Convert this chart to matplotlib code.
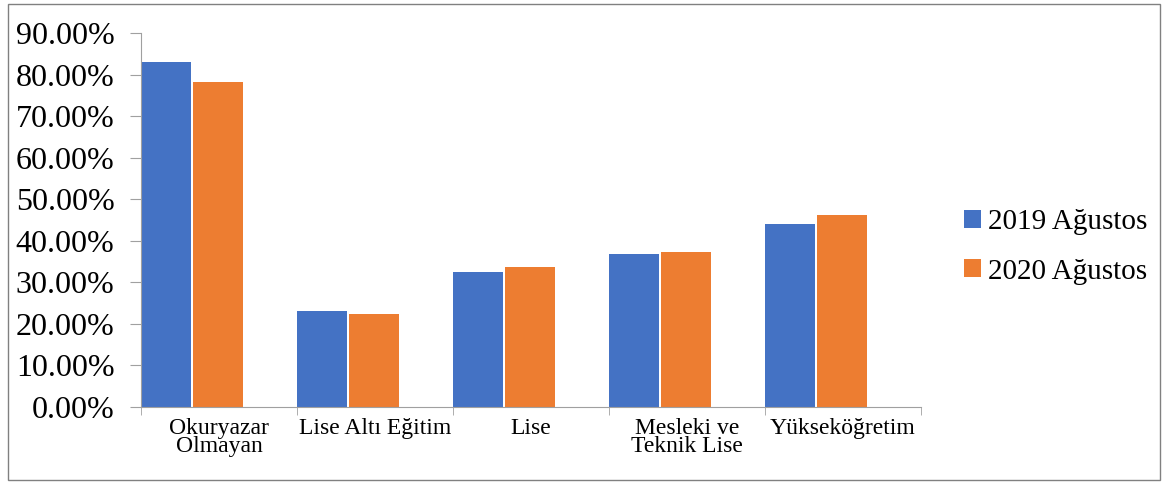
import numpy as np
import matplotlib
matplotlib.use('Agg')
from matplotlib import pyplot as plt
from matplotlib.patches import Rectangle
from matplotlib.ticker import FuncFormatter, FixedLocator

categories = ['Okuryazar\nOlmayan', 'Lise Altı Eğitim', 'Lise', 'Mesleki ve\nTeknik Lise', 'Yükseköğretim']
series_names = ['2019 Ağustos', '2020 Ağustos']
values_2019 = [83.0, 23.1, 32.5, 36.8, 44.0]
values_2020 = [78.3, 22.5, 33.7, 37.3, 46.1]
colors = ['#4472C4', '#ED7D31']

plt.rcParams['font.family'] = ['Liberation Serif', 'DejaVu Serif']

fig = plt.figure(figsize=(11.68, 4.86), dpi=100)
ax = fig.add_axes([141 / 1168, 79 / 486, 780 / 1168, 374 / 486])

x = np.arange(len(categories))
w = 0.32
# bars sit at the left of each category slot, as in the original
ax.bar(x - 0.34, values_2019, w, color=colors[0], label=series_names[0])
ax.bar(x - 0.007, values_2020, w, color=colors[1], label=series_names[1])

ax.set_xlim(-0.5, len(categories) - 0.5)
ax.set_ylim(0, 90)
ax.set_yticks(np.arange(0, 91, 10))
ax.yaxis.set_major_formatter(FuncFormatter(lambda v, p: '%.2f%%' % v))
ax.tick_params(axis='y', labelsize=23, length=8, color='#A0A0A0', pad=11)

ax.set_xticks(x)
ax.set_xticklabels(categories, fontsize=17, linespacing=0.8)
ax.tick_params(axis='x', which='major', length=0, pad=8)
ax.xaxis.set_minor_locator(FixedLocator(np.arange(-0.5, len(categories), 1)))
ax.tick_params(axis='x', which='minor', length=6, color='#A0A0A0')

for s in ['top', 'right']:
    ax.spines[s].set_visible(False)
for s in ['left', 'bottom']:
    ax.spines[s].set_color('#A0A0A0')

ax.legend(loc='center left', bbox_to_anchor=(1.021, 0.428), frameon=False, fontsize=21,
          handlelength=0.58, handleheight=0.58, handletextpad=0.25, labelspacing=0.8)

fig.patches.append(Rectangle((8 / 1168, 6 / 486), 1152 / 1168, 476 / 486, transform=fig.transFigure,
                             fill=False, edgecolor='#808080', linewidth=1))

fig.savefig('out.png')
